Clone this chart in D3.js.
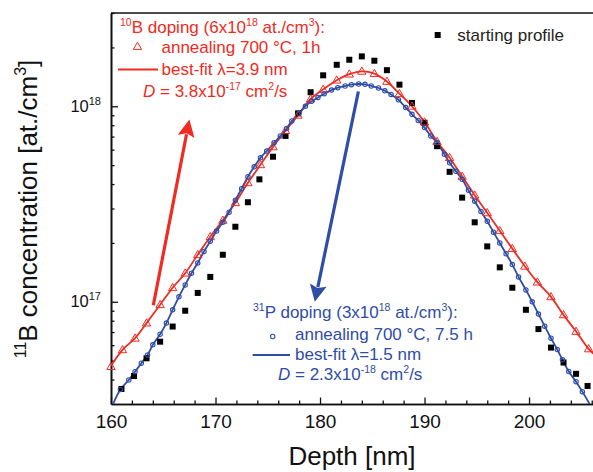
<!DOCTYPE html>
<html><head><meta charset="utf-8">
<script src="https://cdn.jsdelivr.net/npm/d3@7"></script>
<style>body{margin:0;background:#fff} svg{display:block}</style>
</head><body><svg id="c" width="593" height="472"></svg>
<script>
// ---- data ----
const startDepth = [161.0,162.2,163.4,164.7,165.9,167.1,168.3,169.5,170.7,171.9,173.1,174.2,175.5,176.7,177.9,179.1,180.3,181.6,182.8,184.0,185.2,186.4,187.6,188.8,190.0,191.2,192.4,193.6,194.8,196.0,197.2,198.4,199.7,200.9,202.1,203.3,204.5,205.6];
const startConc = [3.58e16,4.17e16,5.14e16,6.25e16,7.47e16,9.0e16,1.11e17,1.34e17,1.74e17,2.42e17,3.23e17,4.23e17,5.52e17,7.05e17,9.2e17,1.18e18,1.44e18,1.63e18,1.73e18,1.80e18,1.71e18,1.53e18,1.29e18,1.04e18,8.24e17,6.25e17,4.62e17,3.41e17,2.55e17,1.92e17,1.50e17,1.18e17,9.1e16,7.25e16,5.83e16,4.89e16,4.28e16,3.71e16];

const bDepth = [160.0,161.1,162.3,163.4,164.7,165.9,167.1,168.3,169.5,170.7,171.9,173.1,174.3,175.5,176.7,177.9,179.1,180.3,181.6,182.8,184.0,185.2,186.4,187.6,188.8,190.0,191.2,192.4,193.6,194.8,196.0,197.2,198.4,199.6,200.8,202.1,203.3,204.5,205.7];
const bConc = [4.66e16,5.68e16,6.51e16,7.78e16,9.66e16,1.18e17,1.40e17,1.74e17,2.15e17,2.61e17,3.21e17,4.06e17,5.02e17,6.2e17,7.5e17,9.0e17,1.09e18,1.22e18,1.36e18,1.46e18,1.51e18,1.47e18,1.34e18,1.16e18,1.00e18,8.3e17,6.6e17,5.46e17,4.38e17,3.51e17,2.85e17,2.31e17,1.87e17,1.52e17,1.26e17,1.06e17,8.57e16,7.05e16,5.74e16];
const bFitEnds = [[160.0,4.7e16],[206.2,5.4e16]];

const pDepth = [160.9,161.7,162.3,162.9,163.5,164.0,164.7,165.3,165.9,166.5,167.1,167.7,168.3,168.9,169.5,170.1,170.7,171.3,171.9,172.5,173.1,173.7,174.3,174.9,175.6,176.2,176.8,177.3,178.0,178.6,179.2,179.8,180.4,181.1,181.7,182.4,183.0,183.7,184.3,184.9,185.6,186.2,186.8,187.5,188.2,188.8,189.4,190.0,190.6,191.2,191.9,192.4,193.0,193.6,194.2,194.8,195.4,196.0,196.6,197.2,197.8,198.4,199.0,199.7,200.3,200.9,201.5,202.1,202.7,203.2,203.8,204.5,205.1];
const pConc = [3.56e16,3.98e16,4.39e16,4.85e16,5.35e16,6.02e16,6.82e16,7.78e16,9.1e16,1.06e17,1.22e17,1.40e17,1.58e17,1.81e17,2.04e17,2.30e17,2.55e17,2.87e17,3.31e17,3.79e17,4.36e17,4.9e17,5.45e17,5.9e17,6.5e17,7.05e17,7.7e17,8.41e17,9.2e17,1.00e18,1.06e18,1.11e18,1.16e18,1.21e18,1.245e18,1.27e18,1.29e18,1.30e18,1.295e18,1.27e18,1.24e18,1.20e18,1.15e18,1.08e18,9.85e17,9.1e17,8.47e17,7.78e17,7.05e17,6.52e17,5.68e17,5.14e17,4.65e17,4.23e17,3.72e17,3.27e17,2.9e17,2.58e17,2.27e17,2.00e17,1.76e17,1.55e17,1.34e17,1.15e17,1.0e17,8.65e16,7.5e16,6.51e16,5.7e16,5.05e16,4.4e16,3.9e16,3.47e16];
const pFitEnds = [[160.2,3.0e16],[205.8,3.0e16]];

const xMajor = [160,170,180,190,200];
const xMinor = [162,164,166,168,172,174,176,178,182,184,186,188,192,194,196,198,202,204,206];
const yMajor = [1e17,1e18];
const yMajorExp = ["17","18"];
const yMinor = [4e16,5e16,6e16,7e16,8e16,9e16,2e17,3e17,4e17,5e17,6e17,7e17,8e17,9e17,2e18,3e18];

const arrowB = [[164.05,9.6e16],[167.5,8.55e17]];
const arrowP = [[183.67,1.19e18],[179.5,1.0e17]];

// ---- drawing ----
const RED = "#ef2b22", BLUE = "#2f4da6", FONT = "Arial, 'Liberation Sans', sans-serif";
const svg = d3.select("#c").style("font-family", FONT);
const x = d3.scaleLinear().domain([160, 206.12]).range([111, 593]);
const y = d3.scaleLog().domain([3e16, 3e18]).range([404, 13]);

svg.append("defs").append("clipPath").attr("id","clip")
  .append("rect").attr("x",111).attr("y",13).attr("width",482).attr("height",391);

// axes
const gxMin = svg.append("g").attr("transform","translate(0,404)")
  .call(d3.axisBottom(x).tickValues(xMinor).tickSize(-3.5).tickSizeOuter(0).tickFormat(""));
const gx = svg.append("g").attr("transform","translate(0,404)")
  .call(d3.axisBottom(x).tickValues(xMajor).tickSize(-6.5).tickSizeOuter(0).tickFormat(d3.format("d")));
gx.selectAll("text").attr("y",24).attr("dy","0").style("font-size","19px").attr("fill","#111");
const gyMin = svg.append("g").attr("transform","translate(111,0)")
  .call(d3.axisLeft(y).tickValues(yMinor).tickSize(-3.5).tickSizeOuter(0).tickFormat(""));
const gy = svg.append("g").attr("transform","translate(111,0)")
  .call(d3.axisLeft(y).tickValues(yMajor).tickSize(-7).tickSizeOuter(0).tickFormat(""));
gy.selectAll(".tick").each(function(d,i){
  const t = d3.select(this).select("text").attr("x",-10).attr("dy","0").attr("y",5)
    .attr("text-anchor","end").attr("fill","#111").style("font-size","16.5px");
  t.append("tspan").text("10");
  t.append("tspan").attr("dy",-7).style("font-size","11px").text(yMajorExp[i]);
});
[gx,gxMin,gy,gyMin].forEach(g=>{
  g.selectAll("path.domain").attr("stroke","#111").attr("stroke-width",1.6);
  g.selectAll(".tick line").attr("stroke","#111").attr("stroke-width",1.3);
});
// top border
svg.append("line").attr("x1",x(160)).attr("x2",x(206.12)).attr("y1",y(3e18)).attr("y2",y(3e18))
  .attr("stroke","#111").attr("stroke-width",1.6);

// axis titles
const yt = svg.append("text").attr("transform","translate(37,209) rotate(-90)")
  .attr("text-anchor","middle").style("font-size","26px").attr("fill","#111");
yt.append("tspan").attr("dy",-11).style("font-size","16px").text("11");
yt.append("tspan").attr("dy",11).text("B concentration [at./cm");
yt.append("tspan").attr("dy",-11).style("font-size","16px").text("3");
yt.append("tspan").attr("dy",11).text("]");
svg.append("text").attr("x",352).attr("y",465).attr("text-anchor","middle")
  .style("font-size","26px").attr("fill","#111").text("Depth [nm]");

const plot = svg.append("g").attr("clip-path","url(#clip)");

// starting profile squares
svg.append("g").selectAll("rect").data(startDepth.map((d,i)=>[d,startConc[i]])).join("rect")
  .attr("x",d=>x(d[0])-3).attr("y",d=>y(d[1])-3).attr("width",6).attr("height",6).attr("fill","#000");

const line = d3.line().x(d=>x(d[0])).y(d=>y(d[1])).curve(d3.curveCatmullRom.alpha(0.5));

// 10B
const bPts = bDepth.map((d,i)=>[d,bConc[i]]);
plot.append("path").datum([bFitEnds[0], ...bPts.slice(1), bFitEnds[1]]).attr("d",line)
  .attr("fill","none").attr("stroke",RED).attr("stroke-width",1.8);
const tri = d3.symbol().type(d3.symbolTriangle).size(30);
svg.append("g").selectAll("path").data(bPts).join("path")
  .attr("d",tri).attr("transform",d=>`translate(${x(d[0])},${y(d[1])+0.5})`)
  .attr("fill","none").attr("stroke",RED).attr("stroke-width",1);

// 31P
const pPts = pDepth.map((d,i)=>[d,pConc[i]]);
plot.append("path").datum([pFitEnds[0], ...pPts, pFitEnds[1]]).attr("d",line)
  .attr("fill","none").attr("stroke",BLUE).attr("stroke-width",1.8);
svg.append("g").selectAll("circle").data(pPts).join("circle")
  .attr("cx",d=>x(d[0])).attr("cy",d=>y(d[1])).attr("r",2.2)
  .attr("fill","none").attr("stroke",BLUE).attr("stroke-width",1.1);

// arrows
function arrow(pts, color){
  const x0=x(pts[0][0]), y0=y(pts[0][1]), x1=x(pts[1][0]), y1=y(pts[1][1]);
  const dx=x1-x0, dy=y1-y0, L=Math.hypot(dx,dy), ux=dx/L, uy=dy/L;
  const hl=17, hw=8.5;
  const bx=x1-ux*hl, by=y1-uy*hl;
  svg.append("line").attr("x1",x0).attr("y1",y0).attr("x2",bx+ux*2).attr("y2",by+uy*2)
    .attr("stroke",color).attr("stroke-width",3.2);
  svg.append("path").attr("d",`M${x1},${y1}L${bx-uy*hw},${by+ux*hw}L${bx+ux*3},${by+uy*3}L${bx+uy*hw},${by-ux*hw}Z`)
    .attr("fill",color);
}
arrow(arrowB, RED);
arrow(arrowP, BLUE);

// rich text helper
function rich(xp, yp, parts, color, size){
  const t = svg.append("text").attr("x",xp).attr("y",yp).attr("fill",color).style("font-size",size+"px");
  let raised=false;
  parts.forEach(p=>{
    const [s, k] = Array.isArray(p)?p:[p,""];
    const ts = t.append("tspan").text(s);
    if(k==="sup"){ ts.style("font-size","10.5px"); if(!raised){ts.attr("dy",-7); raised=true;} }
    else { if(raised){ts.attr("dy",7); raised=false;} if(k==="it") ts.style("font-style","italic"); }
  });
  return t;
}

// 10B legend
rich(120,33,[["10","sup"],"B doping (6x10",["18","sup"]," at./cm",["3","sup"],"):"],RED,17);
svg.append("path").attr("d",d3.symbol().type(d3.symbolTriangle).size(30)).attr("transform","translate(137.5,47)")
  .attr("fill","none").attr("stroke",RED).attr("stroke-width",1);
rich(161.5,53,["annealing 700 °C, 1h"],RED,17);
svg.append("line").attr("x1",118).attr("x2",158).attr("y1",69.5).attr("y2",69.5).attr("stroke",RED).attr("stroke-width",1.8);
rich(161.5,75,["best-fit λ=3.9 nm"],RED,17);
rich(143,96.5,[["D","it"]," = 3.8x10",["-17","sup"]," cm",["2","sup"],"/s"],RED,17);

// 31P legend
rich(253,317.5,[["31","sup"],"P doping (3x10",["18","sup"]," at./cm",["3","sup"],"):"],BLUE,17);
svg.append("circle").attr("cx",272.7).attr("cy",336.5).attr("r",2.2).attr("fill","none").attr("stroke",BLUE).attr("stroke-width",1.1);
rich(295,339.5,["annealing 700 °C, 7.5 h"],BLUE,17);
svg.append("line").attr("x1",252.7).attr("x2",290).attr("y1",355).attr("y2",355).attr("stroke",BLUE).attr("stroke-width",1.8);
rich(295,359.5,["best-fit λ=1.5 nm"],BLUE,17);
rich(278,380,[["D","it"]," = 2.3x10",["-18","sup"]," cm",["2","sup"],"/s"],BLUE,17);

// starting profile legend
svg.append("rect").attr("x",434.7).attr("y",32).attr("width",6).attr("height",6).attr("fill","#000");
rich(457.3,40.7,["starting profile"],"#231f20",17);
</script></body></html>
